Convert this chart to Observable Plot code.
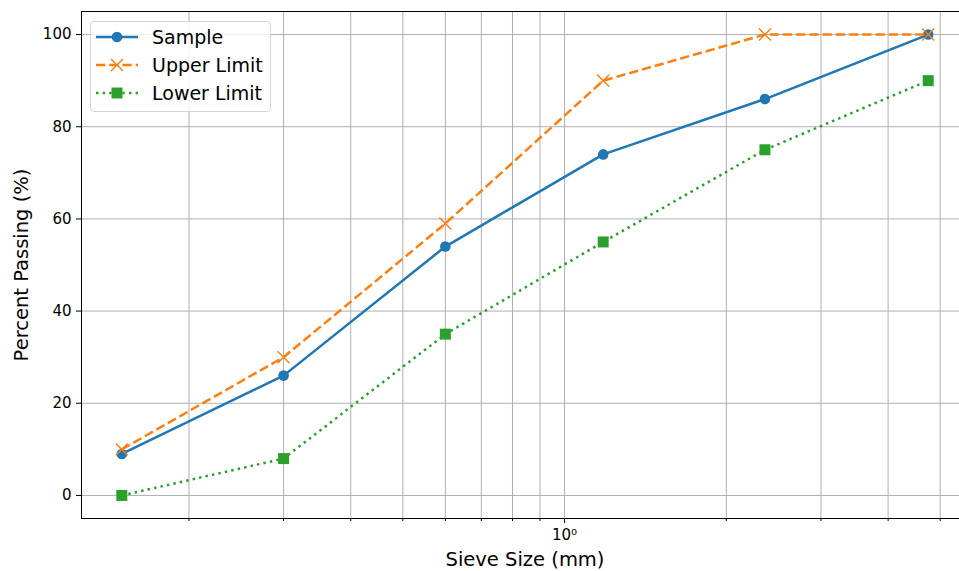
<!DOCTYPE html>
<html><head><meta charset="utf-8">
<script src="https://cdn.jsdelivr.net/npm/d3@7"></script>
<script src="https://cdn.jsdelivr.net/npm/@observablehq/plot@0.6"></script>
<style>
html,body{margin:0;padding:0;background:#fff;overflow:hidden;}
#wrap{position:relative;width:959px;height:571px;overflow:hidden;}
g[aria-label="y-axis label"], g[aria-label="y-axis label"] text,
g[aria-label="x-axis label"], g[aria-label="x-axis label"] text {font-size:19.5px;}
#legend{position:absolute;left:90px;top:21px;width:179px;height:89px;border:1px solid #d5d5d5;border-radius:4px;background:rgba(255,255,255,0.8);}
#legend svg{position:absolute;left:0;top:0;}
</style></head><body><div id="wrap"></div>
<script>
// ---- data ----
const sieveSizes = [0.15, 0.3, 0.6, 1.18, 2.36, 4.75];
const samplePassing = [9, 26, 54, 74, 86, 100];
const upperLimit = [10, 30, 59, 90, 100, 100];
const lowerLimit = [0, 8, 35, 55, 75, 90];
const yTicks = [0, 20, 40, 60, 80, 100];
const xMajorTicks = [1];
const xMajorLabels = ["10⁰"];
const xMinorTicks = [0.2, 0.3, 0.4, 0.5, 0.6, 0.7, 0.8, 0.9, 2, 3, 4, 5];
const seriesNames = ["Sample", "Upper Limit", "Lower Limit"];
const seriesColors = ["#1f77b4", "#ff7f0e", "#2ca02c"];

const toRows = vals => sieveSizes.map((s, i) => ({size: s, pct: vals[i]}));
const sample = toRows(samplePassing);
const upper = toRows(upperLimit);
const lower = toRows(lowerLimit);

const lw = 2.5;
const plot = Plot.plot({
  width: 970,
  height: 571,
  marginLeft: 81,
  marginRight: 2,
  marginTop: 11,
  marginBottom: 53,
  style: {fontFamily: "DejaVu Sans, sans-serif", fontSize: "15px", maxWidth: "none", color: "#000", background: "#fff"},
  x: {type: "log", domain: [0.1262, 5.645]},
  y: {domain: [-5, 105]},
  marks: [
    Plot.gridX(xMinorTicks.concat(xMajorTicks), {stroke: "#b0b0b0", strokeOpacity: 1, strokeWidth: 1}),
    Plot.gridY(yTicks, {stroke: "#b0b0b0", strokeOpacity: 1, strokeWidth: 1}),
    Plot.axisY(yTicks, {tickSize: 5, tickPadding: 5, stroke: "#000", label: "Percent Passing (%)", labelAnchor: "center", labelOffset: 67, labelArrow: "none"}),
    Plot.axisX(xMinorTicks, {tickSize: 3, tickFormat: () => "", label: null, stroke: "#000"}),
    Plot.axisX(xMajorTicks, {tickSize: 5, tickPadding: 6, stroke: "#000", tickFormat: d => xMajorLabels[xMajorTicks.indexOf(d)] ?? "", label: "Sieve Size (mm)", labelAnchor: "center", labelOffset: 47, labelArrow: "none"}),
    Plot.line(sample, {x: "size", y: "pct", stroke: seriesColors[0], strokeWidth: lw, strokeLinecap: "butt", strokeLinejoin: "round"}),
    Plot.dot(sample, {x: "size", y: "pct", fill: seriesColors[0], r: 5.3, stroke: null}),
    Plot.line(upper, {x: "size", y: "pct", stroke: seriesColors[1], strokeWidth: lw, strokeDasharray: "9.25,4", strokeLinecap: "butt", strokeLinejoin: "round"}),
    Plot.dot(upper, {x: "size", y: "pct", symbol: "times", r: 5.5, stroke: seriesColors[1], strokeWidth: 1.4}),
    Plot.line(lower, {x: "size", y: "pct", stroke: seriesColors[2], strokeWidth: lw, strokeDasharray: "2.5,4.1", strokeLinecap: "butt", strokeLinejoin: "round"}),
    Plot.dot(lower, {x: "size", y: "pct", symbol: "square", r: 6.2, fill: seriesColors[2], stroke: null}),
    Plot.frame({stroke: "#000", strokeWidth: 1})
  ]
});
const wrap = document.getElementById("wrap");
wrap.appendChild(plot);

// ---- legend overlay ----
const leg = d3.select(wrap).append("div").attr("id", "legend");
const lsvg = leg.append("svg").attr("width", 179).attr("height", 89);
const dashes = [null, "9.25,4", "2.5,4.1"];
const sym = [d3.symbolCircle, d3.symbolTimes, d3.symbolSquare];
const symR = [5.3, 5.5, 6.2];
seriesNames.forEach((name, i) => {
  const g = lsvg.append("g").attr("transform", `translate(0,${15 + i * 28})`);
  g.append("line").attr("x1", 5).attr("x2", 47).attr("y1", 0).attr("y2", 0)
    .attr("stroke", seriesColors[i]).attr("stroke-width", lw)
    .attr("stroke-dasharray", dashes[i]);
  const p = g.append("path").attr("transform", "translate(26,0)")
    .attr("d", d3.symbol(sym[i], symR[i] * symR[i] * Math.PI)());
  if (i === 1) p.attr("fill", "none").attr("stroke", seriesColors[i]).attr("stroke-width", 1.4);
  else p.attr("fill", seriesColors[i]);
  g.append("text").attr("x", 61).attr("y", 0).attr("dy", "0.36em")
    .attr("font-family", "DejaVu Sans, sans-serif").attr("font-size", 19)
    .attr("fill", "#000").text(name);
});
</script></body></html>
